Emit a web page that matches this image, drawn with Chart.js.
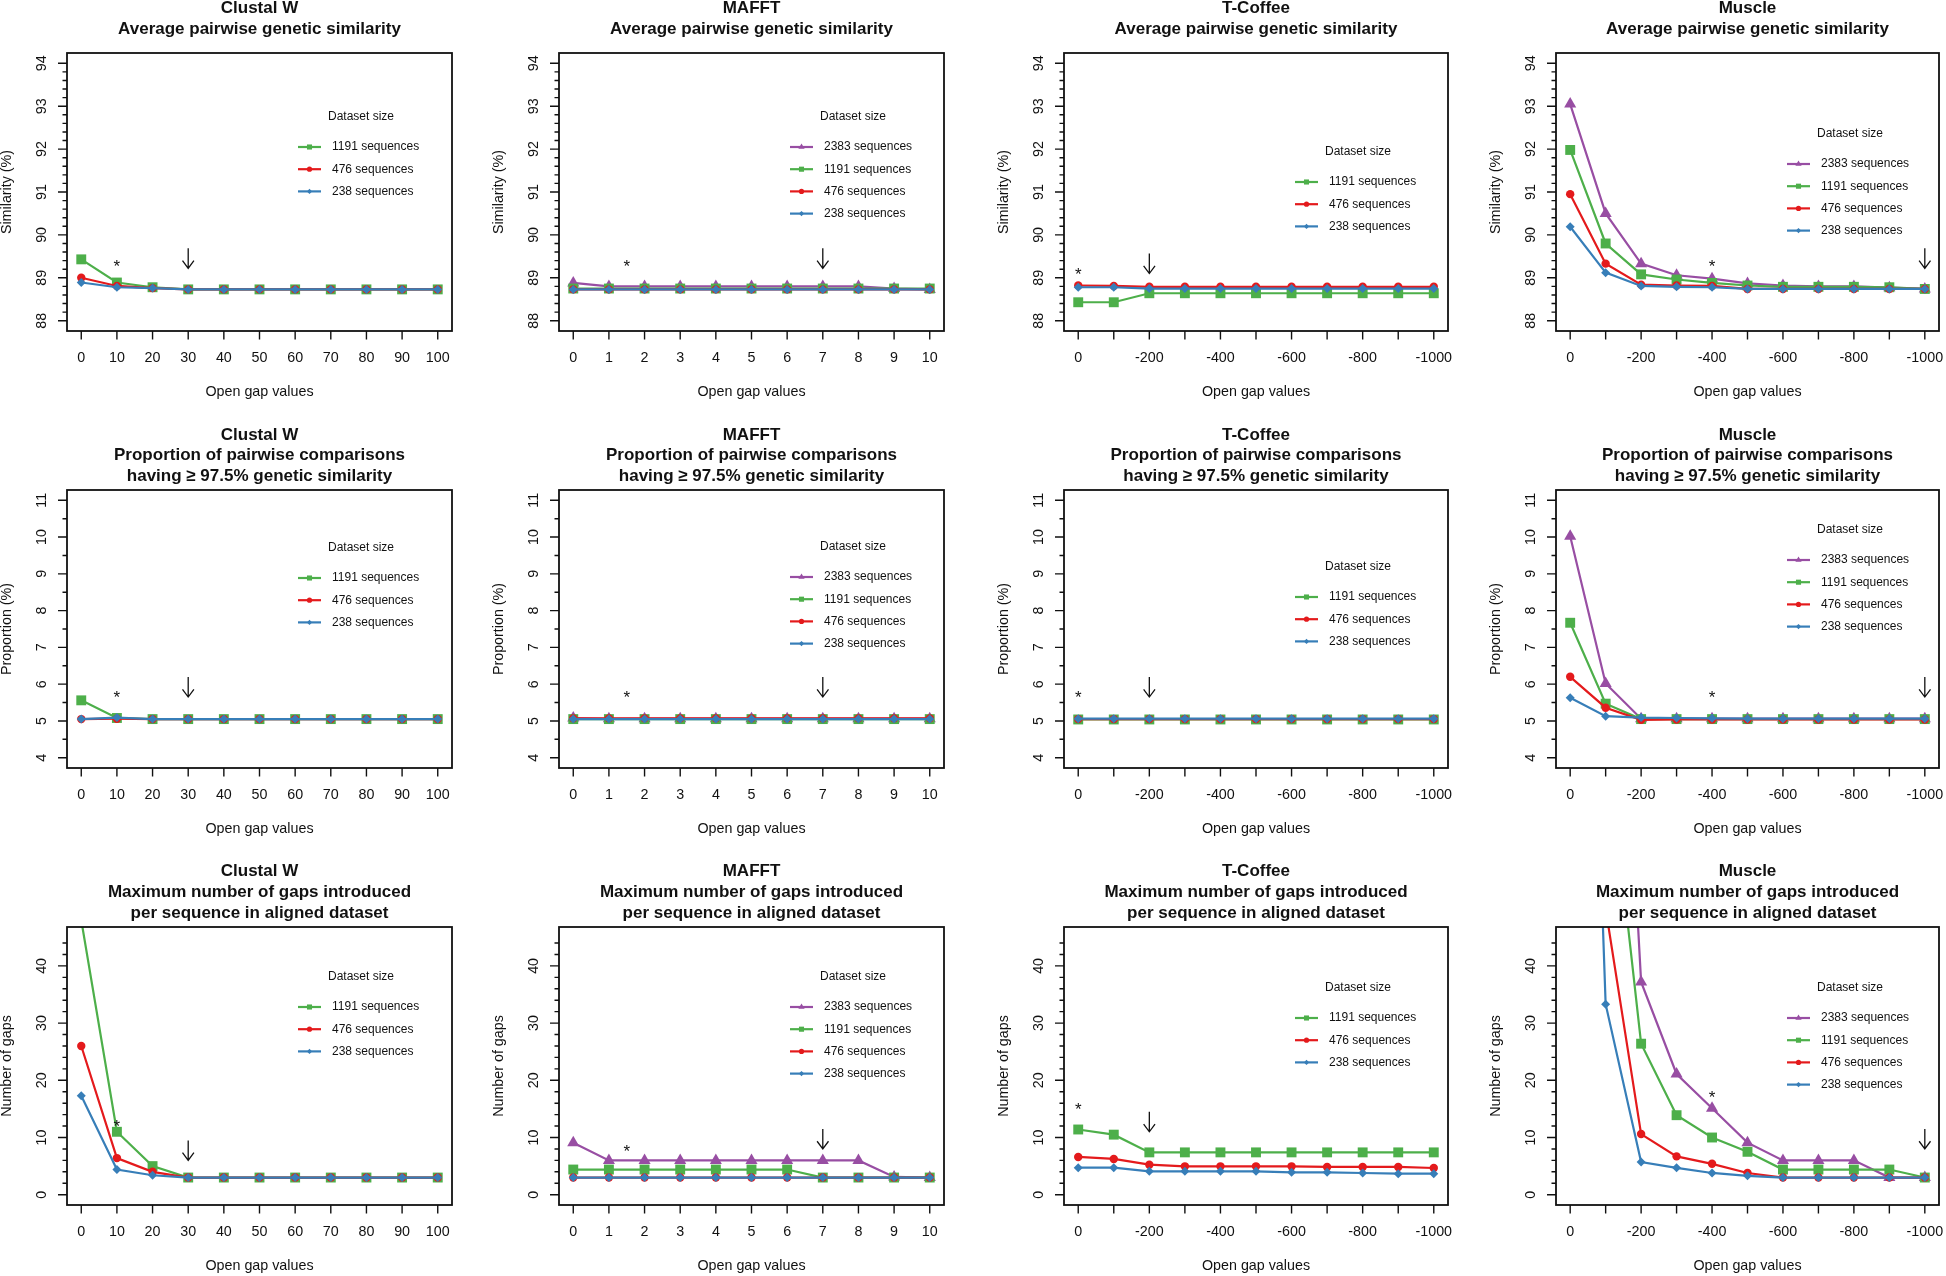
<!DOCTYPE html>
<html>
<head>
<meta charset="utf-8">
<script src="https://cdn.jsdelivr.net/npm/chart.js@4/dist/chart.umd.min.js"></script>
<style>
  body { margin: 0; background: #fff; }
  #wrap { position: relative; width: 1946px; height: 1276px; }
  #wrap canvas { position: absolute; }
</style>
</head>
<body>
<div id="wrap"></div>
<script>
// Open gap values (x axis) per aligner
const gapClustal = [0, 10, 20, 30, 40, 50, 60, 70, 80, 90, 100];
const gapMafft = [0, 1, 2, 3, 4, 5, 6, 7, 8, 9, 10];
const gapTcoffee = [0, -100, -200, -300, -400, -500, -600, -700, -800, -900, -1000];
const gapMuscle = [0, -100, -200, -300, -400, -500, -600, -700, -800, -900, -1000];
const labelsTcoffee = [0, -200, -400, -600, -800, -1000];
const labelsMuscle = [0, -200, -400, -600, -800, -1000];

// y tick labels per row
const simTicks = [88, 89, 90, 91, 92, 93, 94];
const propTicks = [4, 5, 6, 7, 8, 9, 10, 11];
const gapsTicks = [0, 10, 20, 30, 40];

// Row 1: average pairwise genetic similarity (%)
const simClustal1191 = [89.43, 88.89, 88.78, 88.73, 88.73, 88.73, 88.73, 88.73, 88.73, 88.73, 88.73];
const simClustal476 = [89.00, 88.81, 88.76, 88.73, 88.73, 88.73, 88.73, 88.73, 88.73, 88.73, 88.73];
const simClustal238 = [88.89, 88.78, 88.76, 88.73, 88.73, 88.73, 88.73, 88.73, 88.73, 88.73, 88.73];

const simMafft2383 = [88.88, 88.80, 88.80, 88.80, 88.80, 88.80, 88.80, 88.80, 88.80, 88.75, 88.73];
const simMafft1191 = [88.75, 88.75, 88.75, 88.75, 88.75, 88.75, 88.75, 88.75, 88.75, 88.75, 88.75];
const simMafft476 = [88.73, 88.73, 88.73, 88.73, 88.73, 88.73, 88.73, 88.73, 88.73, 88.73, 88.73];
const simMafft238 = [88.73, 88.73, 88.73, 88.73, 88.73, 88.73, 88.73, 88.73, 88.73, 88.73, 88.73];

const simTcoffee1191 = [88.43, 88.43, 88.64, 88.64, 88.64, 88.64, 88.64, 88.64, 88.64, 88.64, 88.64];
const simTcoffee476 = [88.82, 88.81, 88.79, 88.79, 88.79, 88.79, 88.79, 88.79, 88.79, 88.79, 88.79];
const simTcoffee238 = [88.78, 88.78, 88.75, 88.75, 88.75, 88.75, 88.75, 88.75, 88.75, 88.75, 88.75];

const simMuscle2383 = [93.05, 90.50, 89.33, 89.06, 88.98, 88.87, 88.82, 88.80, 88.80, 88.77, 88.74];
const simMuscle1191 = [91.98, 89.80, 89.08, 88.96, 88.88, 88.82, 88.79, 88.79, 88.79, 88.78, 88.74];
const simMuscle476 = [90.95, 89.33, 88.84, 88.82, 88.81, 88.74, 88.74, 88.74, 88.74, 88.74, 88.74];
const simMuscle238 = [90.19, 89.12, 88.81, 88.79, 88.78, 88.74, 88.74, 88.74, 88.74, 88.74, 88.74];

// Row 2: proportion of comparisons >= 97.5% similarity (%)
const propClustal1191 = [5.56, 5.08, 5.05, 5.05, 5.05, 5.05, 5.05, 5.05, 5.05, 5.05, 5.05];
const propClustal476 = [5.05, 5.06, 5.05, 5.05, 5.05, 5.05, 5.05, 5.05, 5.05, 5.05, 5.05];
const propClustal238 = [5.05, 5.09, 5.05, 5.05, 5.05, 5.05, 5.05, 5.05, 5.05, 5.05, 5.05];

const propMafft2383 = [5.08, 5.06, 5.06, 5.06, 5.06, 5.06, 5.06, 5.06, 5.06, 5.06, 5.06];
const propMafft1191 = [5.05, 5.05, 5.05, 5.05, 5.05, 5.05, 5.05, 5.05, 5.05, 5.05, 5.05];
const propMafft476 = [5.07, 5.07, 5.07, 5.07, 5.07, 5.07, 5.07, 5.07, 5.07, 5.07, 5.07];
const propMafft238 = [5.05, 5.05, 5.05, 5.05, 5.05, 5.05, 5.05, 5.05, 5.05, 5.05, 5.05];

const propTcoffee1191 = [5.04, 5.04, 5.04, 5.04, 5.04, 5.04, 5.04, 5.04, 5.04, 5.04, 5.04];
const propTcoffee476 = [5.05, 5.05, 5.05, 5.05, 5.05, 5.05, 5.05, 5.05, 5.05, 5.05, 5.05];
const propTcoffee238 = [5.06, 5.06, 5.06, 5.06, 5.06, 5.06, 5.06, 5.06, 5.06, 5.06, 5.06];

const propMuscle2383 = [10.02, 6.02, 5.06, 5.06, 5.06, 5.06, 5.06, 5.06, 5.06, 5.06, 5.06];
const propMuscle1191 = [7.67, 5.47, 5.05, 5.05, 5.05, 5.05, 5.05, 5.05, 5.05, 5.05, 5.05];
const propMuscle476 = [6.20, 5.36, 5.03, 5.04, 5.04, 5.04, 5.04, 5.04, 5.04, 5.04, 5.04];
const propMuscle238 = [5.63, 5.13, 5.09, 5.08, 5.07, 5.06, 5.06, 5.06, 5.06, 5.06, 5.06];

// Row 3: maximum number of gaps per sequence
const gapsClustal1191 = [48, 11.0, 5.0, 3, 3, 3, 3, 3, 3, 3, 3];
const gapsClustal476 = [26.0, 6.4, 4.0, 3, 3, 3, 3, 3, 3, 3, 3];
const gapsClustal238 = [17.3, 4.4, 3.4, 3, 3, 3, 3, 3, 3, 3, 3];

const gapsMafft2383 = [9.1, 6, 6, 6, 6, 6, 6, 6, 6, 3.1, 3];
const gapsMafft1191 = [4.4, 4.4, 4.4, 4.4, 4.4, 4.4, 4.4, 3, 3, 3, 3];
const gapsMafft476 = [3, 3, 3, 3, 3, 3, 3, 3, 3, 3, 3];
const gapsMafft238 = [3, 3, 3, 3, 3, 3, 3, 3, 3, 3, 3];

const gapsTcoffee1191 = [11.4, 10.5, 7.4, 7.4, 7.4, 7.4, 7.4, 7.4, 7.4, 7.4, 7.4];
const gapsTcoffee476 = [6.6, 6.25, 5.25, 4.96, 4.96, 4.96, 4.96, 4.85, 4.85, 4.85, 4.67];
const gapsTcoffee238 = [4.73, 4.73, 4.09, 4.09, 4.09, 4.09, 3.91, 3.91, 3.79, 3.68, 3.68];

const gapsMuscle2383 = [400, 150, 37.2, 21.1, 15.1, 9.1, 6, 6, 6, 3, 3];
const gapsMuscle1191 = [320, 82, 26.4, 13.9, 10.0, 7.5, 4.4, 4.4, 4.4, 4.4, 3];
const gapsMuscle476 = [260, 50, 10.6, 6.7, 5.4, 3.8, 3, 3, 3, 3, 3];
const gapsMuscle238 = [210, 33.3, 5.7, 4.7, 3.8, 3.3, 3, 3, 3, 3, 3];

const FONT = '"Liberation Sans", Arial, Helvetica, sans-serif';
const INK = '#111';

const seriesStyle = {
  2383: { label: '2383 sequences', color: '#984EA3', shape: 'triangle', r: 7, order: 3 },
  1191: { label: '1191 sequences', color: '#4DAF4A', shape: 'rect', r: 7, order: 2 },
  476: { label: '476 sequences', color: '#E41A1C', shape: 'circle', r: 4.2, order: 1 },
  238: { label: '238 sequences', color: '#377EB8', shape: 'rectRot', r: 4.5, order: 0 }
};

const rowCfg = [
  { yMin: 87.76, yMax: 94.24, ticks: simTicks, minor: [88, 94, 0.2], yTitle: 'Similarity (%)',
    sub: ['Average pairwise genetic similarity'], titleY: 8.5 },
  { yMin: 3.72, yMax: 11.28, ticks: propTicks, minor: [4, 11, 0.5], yTitle: 'Proportion (%)',
    sub: ['Proportion of pairwise comparisons', 'having \u2265 97.5% genetic similarity'], titleY: 15 },
  { yMin: -1.8, yMax: 46.8, ticks: gapsTicks, minor: [0, 44, 2], yTitle: 'Number of gaps',
    sub: ['Maximum number of gaps introduced', 'per sequence in aligned dataset'], titleY: 21.8 }
];

const colCfg = [
  { tool: 'Clustal W', xMin: -4, xMax: 104, reverse: false, ticks: gapClustal, labels: gapClustal },
  { tool: 'MAFFT', xMin: -0.4, xMax: 10.4, reverse: false, ticks: gapMafft, labels: gapMafft },
  { tool: 'T-Coffee', xMin: -1040, xMax: 40, reverse: true, ticks: gapTcoffee, labels: labelsTcoffee },
  { tool: 'Muscle', xMin: -1040, xMax: 40, reverse: true, ticks: gapMuscle, labels: labelsMuscle }
];

// cell geometry
const colLeft = [0, 486, 972, 1458], colWidth = [486, 486, 486, 488];
const rowTop = [0, 420, 850], rowHeight = [420, 430, 426];
const padLeft = [67, 73, 92, 98], padRight = [34, 28, 10, 6];
const padTop = [53, 70, 77], padBottom = [89, 82, 71];

const panels = [
  { row: 0, col: 0, x: gapClustal, series: [[1191, simClustal1191], [476, simClustal476], [238, simClustal238]],
    star: [10, 89.37], arrow: [30, 89.22], legendY: 64 },
  { row: 0, col: 1, x: gapMafft, series: [[2383, simMafft2383], [1191, simMafft1191], [476, simMafft476], [238, simMafft238]],
    star: [1.5, 89.37], arrow: [7, 89.22], legendY: 64 },
  { row: 0, col: 2, x: gapTcoffee, series: [[1191, simTcoffee1191], [476, simTcoffee476], [238, simTcoffee238]],
    star: [0, 89.18], arrow: [-200, 89.10], legendY: 99 },
  { row: 0, col: 3, x: gapMuscle, series: [[2383, simMuscle2383], [1191, simMuscle1191], [476, simMuscle476], [238, simMuscle238]],
    star: [-400, 89.37], arrow: [-1000, 89.22], legendY: 81 },

  { row: 1, col: 0, x: gapClustal, series: [[1191, propClustal1191], [476, propClustal476], [238, propClustal238]],
    star: [10, 5.77], arrow: [30, 5.65], legendY: 58 },
  { row: 1, col: 1, x: gapMafft, series: [[2383, propMafft2383], [1191, propMafft1191], [476, propMafft476], [238, propMafft238]],
    star: [1.5, 5.77], arrow: [7, 5.65], legendY: 57 },
  { row: 1, col: 2, x: gapTcoffee, series: [[1191, propTcoffee1191], [476, propTcoffee476], [238, propTcoffee238]],
    star: [0, 5.77], arrow: [-200, 5.65], legendY: 77 },
  { row: 1, col: 3, x: gapMuscle, series: [[2383, propMuscle2383], [1191, propMuscle1191], [476, propMuscle476], [238, propMuscle238]],
    star: [-400, 5.77], arrow: [-1000, 5.65], legendY: 40 },

  { row: 2, col: 0, x: gapClustal, series: [[1191, gapsClustal1191], [476, gapsClustal476], [238, gapsClustal238]],
    star: [10, 12.7], arrow: [30, 6.0], legendY: 50 },
  { row: 2, col: 1, x: gapMafft, series: [[2383, gapsMafft2383], [1191, gapsMafft1191], [476, gapsMafft476], [238, gapsMafft238]],
    star: [1.5, 8.4], arrow: [7, 8.0], legendY: 50 },
  { row: 2, col: 2, x: gapTcoffee, series: [[1191, gapsTcoffee1191], [476, gapsTcoffee476], [238, gapsTcoffee238]],
    star: [0, 15.7], arrow: [-200, 11.0], legendY: 61 },
  { row: 2, col: 3, x: gapMuscle, series: [[2383, gapsMuscle2383], [1191, gapsMuscle1191], [476, gapsMuscle476], [238, gapsMuscle238]],
    star: [-400, 17.7], arrow: [-1000, 8.0], legendY: 61 }
];

function drawMarker(ctx, shape, x, y, r, color) {
  ctx.fillStyle = color;
  ctx.beginPath();
  if (shape === 'circle') {
    ctx.arc(x, y, r, 0, Math.PI * 2);
  } else if (shape === 'rect') {
    const s = r * Math.SQRT1_2;
    ctx.rect(x - s, y - s, 2 * s, 2 * s);
  } else if (shape === 'rectRot') {
    ctx.moveTo(x - r, y); ctx.lineTo(x, y - r); ctx.lineTo(x + r, y); ctx.lineTo(x, y + r); ctx.closePath();
  } else {
    ctx.moveTo(x, y - r); ctx.lineTo(x + r * 0.866, y + r * 0.5); ctx.lineTo(x - r * 0.866, y + r * 0.5); ctx.closePath();
  }
  ctx.fill();
}

function rotText(ctx, txt, x, y) {
  ctx.save();
  ctx.translate(x, y);
  ctx.rotate(-Math.PI / 2);
  ctx.fillText(txt, 0, 0);
  ctx.restore();
}

// R-like base graphics: box, ticks, labels, titles, legend, marks
function makeDecor(p, rc, cc) {
  return {
    id: 'decor',
    afterDraw(chart) {
      const ctx = chart.ctx, a = chart.chartArea;
      const xs = chart.scales.x, ys = chart.scales.y;
      const cx = (a.left + a.right) / 2, cy = (a.top + a.bottom) / 2;
      ctx.save();
      ctx.fillStyle = INK;
      ctx.strokeStyle = INK;
      ctx.textAlign = 'center';
      ctx.textBaseline = 'middle';

      // main title
      ctx.font = 'bold 17px ' + FONT;
      [cc.tool].concat(rc.sub).forEach((t, i) => ctx.fillText(t, cx, rc.titleY + i * 20.7));

      // ticks
      ctx.lineWidth = 1.4;
      ctx.beginPath();
      cc.ticks.forEach(v => {
        const x = xs.getPixelForValue(v);
        ctx.moveTo(x, a.bottom); ctx.lineTo(x, a.bottom + 8.5);
      });
      rc.ticks.forEach(v => {
        const y = ys.getPixelForValue(v);
        ctx.moveTo(a.left, y); ctx.lineTo(a.left - 9, y);
      });
      const [m0, m1, step] = rc.minor;
      for (let k = 0; m0 + k * step <= m1 + 1e-9; k++) {
        const y = ys.getPixelForValue(m0 + k * step);
        ctx.moveTo(a.left, y); ctx.lineTo(a.left - 4.5, y);
      }
      ctx.stroke();

      // tick labels and axis titles
      ctx.font = '14.3px ' + FONT;
      cc.labels.forEach(v => ctx.fillText(String(v), xs.getPixelForValue(v), a.bottom + 27));
      ctx.fillText('Open gap values', cx, a.bottom + 61);
      rc.ticks.forEach(v => rotText(ctx, String(v), a.left - 25, ys.getPixelForValue(v)));
      rotText(ctx, rc.yTitle, a.left - 60, cy);

      // box
      ctx.lineWidth = 1.8;
      ctx.strokeRect(a.left, a.top, a.right - a.left, a.bottom - a.top);

      // optimum markers: star and arrow
      ctx.font = '17px ' + FONT;
      ctx.textBaseline = 'alphabetic';
      ctx.fillText('*', xs.getPixelForValue(p.star[0]), ys.getPixelForValue(p.star[1]) + 10);
      const ax = xs.getPixelForValue(p.arrow[0]), tip = ys.getPixelForValue(p.arrow[1]);
      ctx.lineWidth = 1.3;
      ctx.beginPath();
      ctx.moveTo(ax, tip - 20); ctx.lineTo(ax, tip);
      ctx.moveTo(ax - 5.7, tip - 7.7); ctx.lineTo(ax, tip); ctx.lineTo(ax + 5.7, tip - 7.7);
      ctx.stroke();

      // legend
      const lx = a.left, ly = a.top + p.legendY;
      ctx.font = '12px ' + FONT;
      ctx.textBaseline = 'middle';
      ctx.textAlign = 'center';
      ctx.fillStyle = INK;
      ctx.fillText('Dataset size', lx + 294, ly);
      ctx.textAlign = 'left';
      p.series.forEach(([size], i) => {
        const st = seriesStyle[size];
        const y = ly + 30 + i * 22.2;
        ctx.strokeStyle = st.color;
        ctx.lineWidth = 2.2;
        ctx.beginPath(); ctx.moveTo(lx + 231, y); ctx.lineTo(lx + 254, y); ctx.stroke();
        drawMarker(ctx, st.shape, lx + 242.5, y, st.shape === 'rect' || st.shape === 'triangle' ? 3.6 : 2.6, st.color);
        ctx.fillStyle = INK;
        ctx.fillText(st.label, lx + 265, y);
      });
      ctx.restore();
    }
  };
}

const wrap = document.getElementById('wrap');
panels.forEach(p => {
  const rc = rowCfg[p.row], cc = colCfg[p.col];
  const canvas = document.createElement('canvas');
  const w = colWidth[p.col], h = rowHeight[p.row];
  canvas.width = w; canvas.height = h;
  canvas.style.left = colLeft[p.col] + 'px';
  canvas.style.top = rowTop[p.row] + 'px';
  canvas.style.width = w + 'px';
  canvas.style.height = h + 'px';
  wrap.appendChild(canvas);

  const datasets = p.series.map(([size, vals]) => {
    const st = seriesStyle[size];
    return {
      label: st.label,
      data: p.x.map((x, i) => ({ x: x, y: vals[i] })),
      borderColor: st.color,
      backgroundColor: st.color,
      borderWidth: 2.2,
      pointStyle: st.shape,
      pointRadius: st.r,
      pointBackgroundColor: st.color,
      pointBorderWidth: 0,
      tension: 0,
      fill: false,
      clip: 0,
      order: st.order
    };
  });

  new Chart(canvas, {
    type: 'line',
    data: { datasets: datasets },
    options: {
      responsive: false,
      animation: false,
      devicePixelRatio: 1,
      layout: { padding: { left: padLeft[p.col], right: padRight[p.col], top: padTop[p.row], bottom: padBottom[p.row] } },
      plugins: { legend: { display: false }, tooltip: { enabled: false } },
      scales: {
        x: { type: 'linear', display: false, min: cc.xMin, max: cc.xMax, reverse: cc.reverse },
        y: { type: 'linear', display: false, min: rc.yMin, max: rc.yMax }
      }
    },
    plugins: [makeDecor(p, rc, cc)]
  });
});
</script>
</body>
</html>
